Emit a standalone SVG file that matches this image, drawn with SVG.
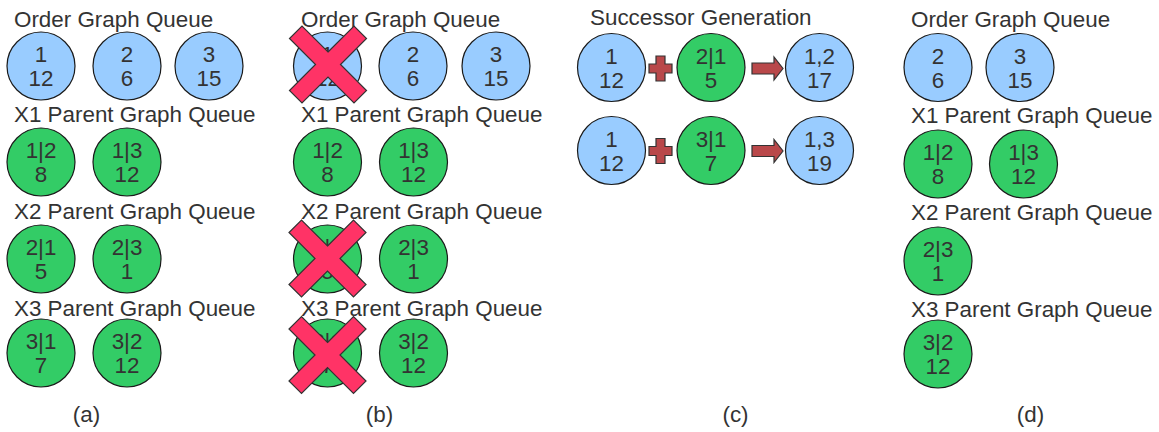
<svg xmlns="http://www.w3.org/2000/svg" width="1159" height="432" viewBox="0 0 1159 432">
  <defs>
    <style>
      .lbl { font-family: "Liberation Sans", Arial, sans-serif; font-size: 22.4px; fill: #333333; }
      .num { font-family: "Liberation Sans", Arial, sans-serif; font-size: 22.4px; fill: #333333; text-anchor: middle; }
      .cap { font-family: "Liberation Sans", Arial, sans-serif; font-size: 22.4px; fill: #333333; text-anchor: middle; }
      .order { fill: #99ccff; stroke: #1a1a1a; stroke-width: 1.2; }
      .parent { fill: #33cc66; stroke: #1a1a1a; stroke-width: 1.2; }
      .cross { fill: #ff3366; stroke: #333333; stroke-width: 1.2; }
      .op { fill: #b9484a; stroke: #333333; stroke-width: 1.2; }
    </style>
    <!-- removal mark centred on the origin -->
    <polygon id="xmark" points="0,-12.5 26,-38.5 38.5,-26 12.5,0 38.5,26 26,38.5 0,12.5 -26,38.5 -38.5,26 -12.5,0 -38.5,-26 -26,-38.5"/>
    <!-- plus sign centred on the origin -->
    <polygon id="plus" points="-4.5,-12.5 4.5,-12.5 4.5,-4.5 11.5,-4.5 11.5,4.5 4.5,4.5 4.5,12.5 -4.5,12.5 -4.5,4.5 -11.5,4.5 -11.5,-4.5 -4.5,-4.5"/>
    <!-- block arrow, tip at the origin -->
    <polygon id="arrow" points="-31,-5.5 -9,-5.5 -9,-11.5 0,0 -9,11.5 -9,5.5 -31,5.5"/>
  </defs>

  <rect x="0" y="0" width="1159" height="432" fill="#ffffff"/>

  <!-- ===== (a) ===== -->
  <g id="panel-a">
    <text class="lbl" x="14" y="27">Order Graph Queue</text>
    <g id="a-og1"><circle class="order" cx="41" cy="66" r="34"/><text class="num" x="41" y="62">1</text><text class="num" x="41" y="86">12</text></g>
    <g id="a-og2"><circle class="order" cx="127" cy="66" r="34"/><text class="num" x="127" y="62">2</text><text class="num" x="127" y="86">6</text></g>
    <g id="a-og3"><circle class="order" cx="209" cy="66" r="34"/><text class="num" x="209" y="62">3</text><text class="num" x="209" y="86">15</text></g>

    <text class="lbl" x="14" y="122">X1 Parent Graph Queue</text>
    <g id="a-x1-2"><circle class="parent" cx="41" cy="162" r="34"/><text class="num" x="41" y="158">1|2</text><text class="num" x="41" y="182">8</text></g>
    <g id="a-x1-3"><circle class="parent" cx="127" cy="162" r="34"/><text class="num" x="127" y="158">1|3</text><text class="num" x="127" y="182">12</text></g>

    <text class="lbl" x="14" y="219">X2 Parent Graph Queue</text>
    <g id="a-x2-1"><circle class="parent" cx="41" cy="259" r="34"/><text class="num" x="41" y="255">2|1</text><text class="num" x="41" y="279">5</text></g>
    <g id="a-x2-3"><circle class="parent" cx="127" cy="259" r="34"/><text class="num" x="127" y="255">2|3</text><text class="num" x="127" y="279">1</text></g>

    <text class="lbl" x="14" y="316">X3 Parent Graph Queue</text>
    <g id="a-x3-1"><circle class="parent" cx="41" cy="353" r="34"/><text class="num" x="41" y="349">3|1</text><text class="num" x="41" y="373">7</text></g>
    <g id="a-x3-2"><circle class="parent" cx="127" cy="353" r="34"/><text class="num" x="127" y="349">3|2</text><text class="num" x="127" y="373">12</text></g>

    <text class="cap" x="86.5" y="422">(a)</text>
  </g>

  <!-- ===== (b) ===== -->
  <g id="panel-b">
    <text class="lbl" x="301" y="27">Order Graph Queue</text>
    <g id="b-og1"><circle class="order" cx="327.5" cy="66" r="34"/><text class="num" x="327.5" y="62">1</text><text class="num" x="327.5" y="86">12</text></g>
    <g id="b-og2"><circle class="order" cx="413" cy="66" r="34"/><text class="num" x="413" y="62">2</text><text class="num" x="413" y="86">6</text></g>
    <g id="b-og3"><circle class="order" cx="496" cy="66" r="34"/><text class="num" x="496" y="62">3</text><text class="num" x="496" y="86">15</text></g>

    <text class="lbl" x="301" y="122">X1 Parent Graph Queue</text>
    <g id="b-x1-2"><circle class="parent" cx="327.5" cy="162" r="34"/><text class="num" x="327.5" y="158">1|2</text><text class="num" x="327.5" y="182">8</text></g>
    <g id="b-x1-3"><circle class="parent" cx="413.5" cy="162" r="34"/><text class="num" x="413.5" y="158">1|3</text><text class="num" x="413.5" y="182">12</text></g>

    <text class="lbl" x="301" y="219">X2 Parent Graph Queue</text>
    <g id="b-x2-1"><circle class="parent" cx="327.5" cy="259" r="34"/><text class="num" x="327.5" y="255">2|1</text><text class="num" x="327.5" y="279">5</text></g>
    <g id="b-x2-3"><circle class="parent" cx="413.5" cy="259" r="34"/><text class="num" x="413.5" y="255">2|3</text><text class="num" x="413.5" y="279">1</text></g>

    <text class="lbl" x="301" y="316">X3 Parent Graph Queue</text>
    <g id="b-x3-1"><circle class="parent" cx="327.5" cy="353" r="34"/><text class="num" x="327.5" y="349">3|1</text><text class="num" x="327.5" y="373">7</text></g>
    <g id="b-x3-2"><circle class="parent" cx="413.5" cy="353" r="34"/><text class="num" x="413.5" y="349">3|2</text><text class="num" x="413.5" y="373">12</text></g>

    <!-- removed entries -->
    <use href="#xmark" class="cross" transform="translate(328,64.5)"/>
    <use href="#xmark" class="cross" transform="translate(327.5,258.5)"/>
    <use href="#xmark" class="cross" transform="translate(327.5,355)"/>

    <text class="cap" x="379.5" y="422">(b)</text>
  </g>

  <!-- ===== (c) ===== -->
  <g id="panel-c">
    <text class="lbl" x="590" y="25">Successor Generation</text>

    <g id="c-r1-order"><circle class="order" cx="611.5" cy="67.5" r="34"/><text class="num" x="611.5" y="63.5">1</text><text class="num" x="611.5" y="87.5">12</text></g>
    <g id="c-r1-parent"><circle class="parent" cx="711" cy="67.5" r="34"/><text class="num" x="711" y="63.5">2|1</text><text class="num" x="711" y="87.5">5</text></g>
    <g id="c-r1-result"><circle class="order" cx="819.5" cy="67.5" r="34"/><text class="num" x="819.5" y="63.5">1,2</text><text class="num" x="819.5" y="87.5">17</text></g>

    <g id="c-r2-order"><circle class="order" cx="611.5" cy="150.5" r="34"/><text class="num" x="611.5" y="146.5">1</text><text class="num" x="611.5" y="170.5">12</text></g>
    <g id="c-r2-parent"><circle class="parent" cx="711" cy="150.5" r="34"/><text class="num" x="711" y="146.5">3|1</text><text class="num" x="711" y="170.5">7</text></g>
    <g id="c-r2-result"><circle class="order" cx="819.5" cy="150.5" r="34"/><text class="num" x="819.5" y="146.5">1,3</text><text class="num" x="819.5" y="170.5">19</text></g>

    <g id="c-connectors">
      <use href="#plus" class="op" transform="translate(660.5,68.5)"/>
      <use href="#arrow" class="op" transform="translate(783,68.5)"/>
      <use href="#plus" class="op" transform="translate(660.5,151)"/>
      <use href="#arrow" class="op" transform="translate(783,151)"/>
    </g>

    <text class="cap" x="735.5" y="422">(c)</text>
  </g>

  <!-- ===== (d) ===== -->
  <g id="panel-d">
    <text class="lbl" x="911" y="27">Order Graph Queue</text>
    <g id="d-og2"><circle class="order" cx="938" cy="67.5" r="34"/><text class="num" x="938" y="63.5">2</text><text class="num" x="938" y="87.5">6</text></g>
    <g id="d-og3"><circle class="order" cx="1020" cy="67.5" r="34"/><text class="num" x="1020" y="63.5">3</text><text class="num" x="1020" y="87.5">15</text></g>

    <text class="lbl" x="911" y="123">X1 Parent Graph Queue</text>
    <g id="d-x1-2"><circle class="parent" cx="938" cy="164" r="34"/><text class="num" x="938" y="160">1|2</text><text class="num" x="938" y="184">8</text></g>
    <g id="d-x1-3"><circle class="parent" cx="1023.5" cy="164" r="34"/><text class="num" x="1023.5" y="160">1|3</text><text class="num" x="1023.5" y="184">12</text></g>

    <text class="lbl" x="911" y="220">X2 Parent Graph Queue</text>
    <g id="d-x2-3"><circle class="parent" cx="938" cy="261" r="34"/><text class="num" x="938" y="257">2|3</text><text class="num" x="938" y="281">1</text></g>

    <text class="lbl" x="911" y="317">X3 Parent Graph Queue</text>
    <g id="d-x3-2"><circle class="parent" cx="938" cy="354" r="34"/><text class="num" x="938" y="350">3|2</text><text class="num" x="938" y="374">12</text></g>

    <text class="cap" x="1030.5" y="422">(d)</text>
  </g>
</svg>
